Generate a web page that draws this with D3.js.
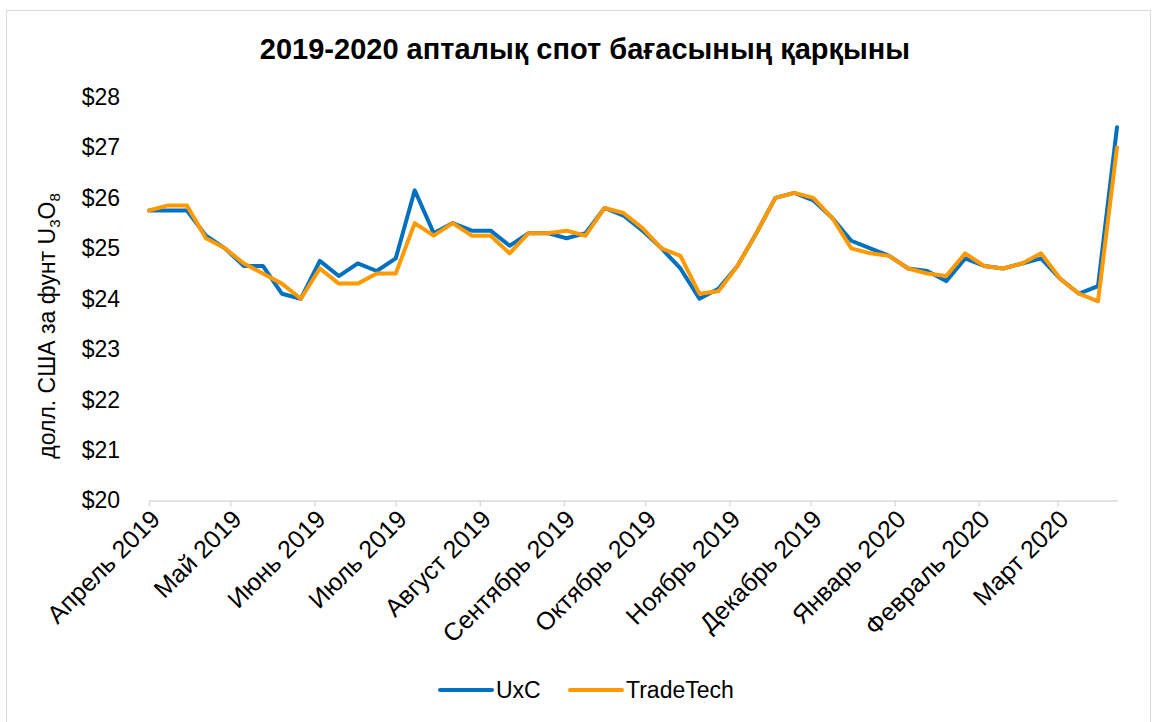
<!DOCTYPE html>
<html>
<head>
<meta charset="utf-8">
<script src="https://cdn.jsdelivr.net/npm/d3@7"></script>
<style>
  body { margin: 0; background: #fff; }
  svg { font-family: Arial, "Liberation Sans", sans-serif; }
</style>
</head>
<body>
<div id="chart"></div>
<script>

// weekly observations, Mondays
const weeks = [
  "2019-04-01","2019-04-08","2019-04-15","2019-04-22","2019-04-29",
  "2019-05-06","2019-05-13","2019-05-20","2019-05-27",
  "2019-06-03","2019-06-10","2019-06-17","2019-06-24",
  "2019-07-01","2019-07-08","2019-07-15","2019-07-22","2019-07-29",
  "2019-08-05","2019-08-12","2019-08-19","2019-08-26",
  "2019-09-02","2019-09-09","2019-09-16","2019-09-23","2019-09-30",
  "2019-10-07","2019-10-14","2019-10-21","2019-10-28",
  "2019-11-04","2019-11-11","2019-11-18","2019-11-25",
  "2019-12-02","2019-12-09","2019-12-16","2019-12-23","2019-12-30",
  "2020-01-06","2020-01-13","2020-01-20","2020-01-27",
  "2020-02-03","2020-02-10","2020-02-17","2020-02-24",
  "2020-03-02","2020-03-09","2020-03-16","2020-03-23"
];

const uxc = [
  25.75, 25.75, 25.75, 25.25, 25.00, 24.65, 24.65, 24.10, 24.00,
  24.75, 24.45, 24.70, 24.55, 24.80, 26.15, 25.30, 25.50, 25.35,
  25.35, 25.05, 25.30, 25.30, 25.20, 25.30, 25.80, 25.65, 25.35,
  25.00, 24.60, 24.00, 24.20, 24.65, 25.30, 26.00, 26.10, 25.95,
  25.60, 25.15, 25.00, 24.85, 24.60, 24.55, 24.35, 24.80, 24.65,
  24.60, 24.70, 24.80, 24.40, 24.10, 24.25, 27.40
];

const tradeTech = [
  25.75, 25.85, 25.85, 25.20, 25.00, 24.70, 24.50, 24.30, 24.00,
  24.60, 24.30, 24.30, 24.50, 24.50, 25.50, 25.25, 25.50, 25.25,
  25.25, 24.90, 25.30, 25.30, 25.35, 25.25, 25.80, 25.70, 25.40,
  25.00, 24.85, 24.10, 24.15, 24.65, 25.30, 26.00, 26.10, 26.00,
  25.60, 25.00, 24.90, 24.85, 24.60, 24.50, 24.45, 24.90, 24.65,
  24.60, 24.70, 24.90, 24.40, 24.10, 23.95, 27.00
];

const monthTicks = [
  "2019-04-01","2019-05-01","2019-06-01","2019-07-01","2019-08-01","2019-09-01",
  "2019-10-01","2019-11-01","2019-12-01","2020-01-01","2020-02-01","2020-03-01"
];
const monthLabels = [
  "Апрель 2019","Май 2019","Июнь 2019","Июль 2019","Август 2019","Сентябрь 2019",
  "Октябрь 2019","Ноябрь 2019","Декабрь 2019","Январь 2020","Февраль 2020","Март 2020"
];

const yTicks = [20, 21, 22, 23, 24, 25, 26, 27, 28];

const seriesNames  = ["UxC", "TradeTech"];
const seriesColors = ["#0070C0", "#FF9900"];

const W = 1156, H = 722;
const margin = { top: 97, right: 39, bottom: 221, left: 149 };

const parse = d3.timeParse("%Y-%m-%d");
const dates = weeks.map(parse);

const svg = d3.select("#chart").append("svg")
  .attr("width", W)
  .attr("height", H);

// chart frame
svg.append("rect")
  .attr("x", 6.5).attr("y", 10.5)
  .attr("width", 1144).attr("height", 720)
  .attr("fill", "#fff")
  .attr("stroke", "#d9d9d9");

const x = d3.scaleTime()
  .domain(d3.extent(dates))
  .range([margin.left, W - margin.right]);

const y = d3.scaleLinear()
  .domain([20, 28])
  .range([H - margin.bottom - 0.5, margin.top]);

svg.append("text")
  .attr("x", 585)
  .attr("y", 59)
  .attr("text-anchor", "middle")
  .attr("font-weight", "bold")
  .style("font-size", "29px")
  .text("2019-2020 апталық спот бағасының қарқыны");

// y axis, labels only
svg.append("g")
  .attr("transform", `translate(${margin.left},0)`)
  .call(d3.axisLeft(y)
    .tickValues(yTicks)
    .tickSize(0)
    .tickPadding(29)
    .tickFormat(d => "$" + d))
  .call(g => g.select(".domain").remove())
  .call(g => g.selectAll(".tick text")
    .attr("fill", "#000")
    .style("font-size", "23px")
    .style("font-family", "Arial, 'Liberation Sans', sans-serif"));

// x axis
const xAxis = svg.append("g")
  .attr("transform", `translate(0,${y(20)})`)
  .call(d3.axisBottom(x)
    .tickValues(monthTicks.map(parse))
    .tickSize(6)
    .tickSizeOuter(0)
    .tickFormat((d, i) => monthLabels[i]));

xAxis.select(".domain").attr("stroke", "#d9d9d9").attr("stroke-width", 1.3);
xAxis.selectAll(".tick line").attr("stroke", "#d9d9d9").attr("stroke-width", 1.3);
xAxis.selectAll(".tick text")
  .attr("fill", "#000")
  .style("font-size", "25px")
  .style("font-family", "Arial, 'Liberation Sans', sans-serif")
  .attr("text-anchor", "end")
  .attr("x", 0).attr("y", 0).attr("dy", "0.35em")
  .attr("transform", "translate(6,14) rotate(-45)");

// y title with subscripts
const yTitle = svg.append("text")
  .attr("transform", "translate(55,326) rotate(-90)")
  .attr("text-anchor", "middle")
  .style("font-size", "23px");
yTitle.append("tspan").text("долл. США за фунт U");
yTitle.append("tspan").attr("dy", 5).style("font-size", "15px").text("3");
yTitle.append("tspan").attr("dy", -5).text("O");
yTitle.append("tspan").attr("dy", 5).style("font-size", "15px").text("8");

const line = d3.line()
  .x((d, i) => x(dates[i]))
  .y(d => y(d));

[uxc, tradeTech].forEach((vals, k) => {
  svg.append("path")
    .datum(vals)
    .attr("fill", "none")
    .attr("stroke", seriesColors[k])
    .attr("stroke-width", 4)
    .attr("stroke-linejoin", "round")
    .attr("stroke-linecap", "round")
    .attr("d", line);
});

// legend
const legendX = [438, 568];
seriesNames.forEach((name, k) => {
  const g = svg.append("g").attr("transform", `translate(${legendX[k]},690)`);
  g.append("line")
    .attr("x1", 2).attr("x2", 54)
    .attr("stroke", seriesColors[k])
    .attr("stroke-width", 4)
    .attr("stroke-linecap", "round");
  g.append("text")
    .attr("x", 58)
    .attr("dy", "0.35em")
    .style("font-size", "23px")
    .text(name);
});

</script>
</body>
</html>
